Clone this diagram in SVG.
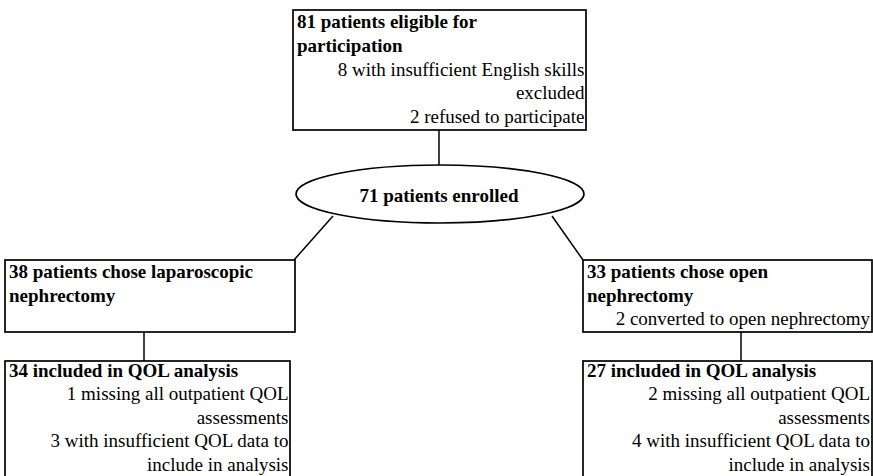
<svg xmlns="http://www.w3.org/2000/svg" width="873" height="476" viewBox="0 0 873 476">
<style>
  .box { fill: #fff; stroke: #000; stroke-width: 1.7; }
  .ln { fill: none; stroke: #000; stroke-width: 1.5; }
  text { font-family: "Liberation Serif", "Times New Roman", serif; font-size: 19px; fill: #000; }
  .b { font-weight: bold; }
  .r { text-anchor: end; }
  .c { text-anchor: middle; }
</style>
<rect width="873" height="476" fill="#fff"/>
<g id="connectors">
  <line class="ln" x1="439" y1="130" x2="439" y2="165"/>
  <line class="ln" x1="333" y1="216" x2="294" y2="260"/>
  <line class="ln" x1="552" y1="216" x2="583" y2="260"/>
  <line class="ln" x1="144" y1="332" x2="144" y2="361"/>
  <line class="ln" x1="741" y1="332" x2="741" y2="361"/>
</g>
<g id="eligible">
  <rect class="box" x="293" y="10" width="293" height="120"/>
  <text class="b" x="297" y="28">81 patients eligible for</text>
  <text class="b" x="297" y="52">participation</text>
  <text class="r" x="584.5" y="75.5">8 with insufficient English skills</text>
  <text class="r" x="584.5" y="99">excluded</text>
  <text class="r" x="584.5" y="122.5">2 refused to participate</text>
</g>
<g id="enrolled">
  <ellipse class="box" cx="440" cy="194" rx="144" ry="29"/>
  <text class="b c" x="439" y="201.5">71 patients enrolled</text>
</g>
<g id="laparoscopic">
  <rect class="box" x="5" y="260" width="290" height="72"/>
  <text class="b" x="9" y="278">38 patients chose laparoscopic</text>
  <text class="b" x="9" y="302">nephrectomy</text>
</g>
<g id="open">
  <rect class="box" x="583" y="260" width="289" height="72"/>
  <text class="b" x="587" y="278">33 patients chose open</text>
  <text class="b" x="587" y="302">nephrectomy</text>
  <text class="r" x="870" y="324.5">2 converted to open nephrectomy</text>
</g>
<g id="lap-qol">
  <rect class="box" x="5" y="361" width="285" height="120"/>
  <text class="b" x="9" y="377">34 included in QOL analysis</text>
  <text class="r" x="288.5" y="400">1 missing all outpatient QOL</text>
  <text class="r" x="288.5" y="423.5">assessments</text>
  <text class="r" x="288.5" y="447">3 with insufficient QOL data to</text>
  <text class="r" x="288.5" y="470.5">include in analysis</text>
</g>
<g id="open-qol">
  <rect class="box" x="583" y="361" width="289" height="120"/>
  <text class="b" x="587" y="377">27 included in QOL analysis</text>
  <text class="r" x="870" y="400">2 missing all outpatient QOL</text>
  <text class="r" x="870" y="423.5">assessments</text>
  <text class="r" x="870" y="447">4 with insufficient QOL data to</text>
  <text class="r" x="870" y="470.5">include in analysis</text>
</g>
</svg>
